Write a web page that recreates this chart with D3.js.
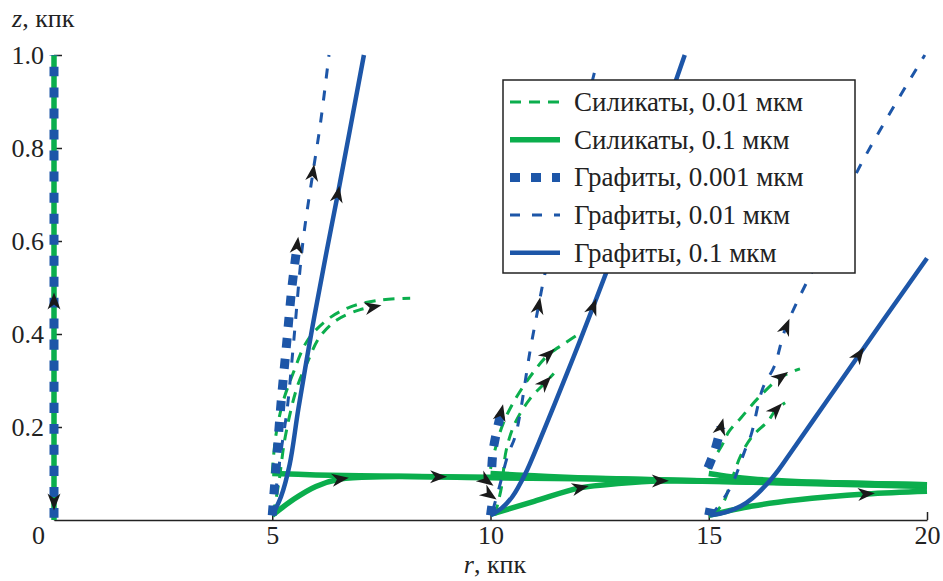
<!DOCTYPE html>
<html>
<head>
<meta charset="utf-8">
<script src="https://cdn.jsdelivr.net/npm/d3@7"></script>
<style>
  body { margin: 0; background: #fff; }
  svg { display: block; }
</style>
</head>
<body>
<svg id="chart" width="943" height="581"></svg>
<script>
// ---- data: r (kpc), z (kpc); arrows = indices of arrowheads ----
const xTicks = [0, 5, 10, 15, 20];
const yTicks = [0.2, 0.4, 0.6, 0.8, 1.0];

const silicates001Tracks = [
  { pts: [[5.0,0.1],[5.08,0.18],[5.25,0.255],[5.48,0.316],[5.8,0.385],[6.25,0.43],[6.78,0.458],[7.47,0.473],[8.16,0.477]], arrows: [] },
  { pts: [[5.02,0.01],[5.15,0.08],[5.3,0.18],[5.57,0.286],[5.8,0.338],[6.09,0.394],[6.48,0.43],[7.0,0.452],[7.3,0.458]], arrows: [8] },
  { pts: [[10.0,0.11],[10.1,0.15],[10.3,0.21],[10.6,0.265],[11.0,0.32],[11.32,0.355],[11.7,0.38],[12.1,0.405]], arrows: [5] },
  { pts: [[10.1,0.01],[10.25,0.07],[10.36,0.15],[10.56,0.208],[10.9,0.26],[11.25,0.295],[11.45,0.315]], arrows: [5] },
  { pts: [[15.0,0.11],[15.07,0.125],[15.3,0.16],[15.46,0.19],[15.74,0.22],[16.13,0.262],[16.65,0.307],[17.09,0.325]], arrows: [6] },
  { pts: [[15.1,0.01],[15.33,0.037],[15.51,0.082],[15.74,0.14],[16.0,0.18],[16.36,0.213],[16.54,0.237],[16.75,0.252]], arrows: [6] }
];

const silicates01Tracks = [
  { pts: [[0.0,1.0],[0.0,0.5],[0.0,0.04],[0.0,0.0]], arrows: [2] },
  { pts: [[5.0,0.1],[6.0,0.097],[7.0,0.095],[8.8,0.093],[10,0.092],[13,0.088],[16,0.082],[20,0.073]], arrows: [3] },
  { pts: [[5.0,0.01],[5.5,0.045],[6.0,0.072],[6.55,0.088],[7.5,0.093],[10,0.091],[13,0.087],[16,0.081],[20,0.072]], arrows: [3] },
  { pts: [[10.0,0.1],[11,0.095],[12,0.091],[14,0.086],[17,0.08],[20,0.075]], arrows: [] },
  { pts: [[10.0,0.012],[11,0.04],[12.05,0.069],[13,0.079],[13.88,0.084],[16,0.083],[20,0.076]], arrows: [2, 4] },
  { pts: [[15.0,0.1],[15.5,0.093],[16,0.088],[17,0.083],[20,0.076]], arrows: [] },
  { pts: [[15.0,0.01],[16,0.03],[17,0.043],[18.6,0.056],[20,0.062]], arrows: [3] }
];

const graphite0001Tracks = [
  { pts: [[0.0,0.005],[0.0,0.47],[0.0,1.0]], arrows: [1] },
  { pts: [[5.0,0.01],[5.1,0.13],[5.2,0.25],[5.33,0.38],[5.45,0.5],[5.57,0.59]], arrows: [5] },
  { pts: [[10.03,0.114],[10.06,0.15],[10.15,0.194],[10.24,0.23]], arrows: [3] },
  { pts: [[10.0,0.01],[10.03,0.03]], arrows: [] },
  { pts: [[14.98,0.112],[15.14,0.15],[15.28,0.2]], arrows: [2] },
  { pts: [[15.0,0.01],[15.03,0.025]], arrows: [] }
];

const graphite001Tracks = [
  { pts: [[5.02,0.01],[5.12,0.09],[5.22,0.16],[5.34,0.237],[5.48,0.372],[5.7,0.596],[5.93,0.746],[6.1,0.85],[6.3,1.0]], arrows: [6] },
  { pts: [[10.05,0.02],[10.2,0.07],[10.4,0.14],[10.56,0.178],[10.68,0.23],[10.9,0.36],[11.1,0.46],[11.25,0.531],[11.9,0.78],[12.44,0.985]], arrows: [6] },
  { pts: [[15.05,0.01],[15.3,0.04],[15.55,0.08],[15.85,0.155],[15.97,0.183],[16.24,0.284],[16.5,0.33],[16.77,0.415],[17.6,0.58],[18.42,0.753],[19.95,1.0]], arrows: [7] }
];

const graphite01Tracks = [
  { pts: [[5.0,0.01],[5.2,0.05],[5.4,0.12],[5.6,0.24],[5.93,0.42],[6.25,0.58],[6.5,0.7],[7.1,1.0]], arrows: [6] },
  { pts: [[10.0,0.01],[10.25,0.025],[10.5,0.05],[10.8,0.1],[11.1,0.165],[11.45,0.245],[11.9,0.35],[12.35,0.458],[13.4,0.72],[14.45,1.0]], arrows: [7] },
  { pts: [[15.03,0.01],[15.4,0.017],[15.74,0.03],[16.0,0.047],[16.3,0.074],[16.6,0.108],[16.9,0.148],[17.66,0.25],[18.44,0.355],[19.0,0.43],[20.0,0.563]], arrows: [8] }
];

// loose arrowheads near r = 10 (position r, z and heading in degrees, screen)
const extraArrows = [[9.9, 0.085, 35], [9.97, 0.055, 35]];

const legendLabels = ["Силикаты, 0.01 мкм", "Силикаты, 0.1 мкм", "Графиты, 0.001 мкм", "Графиты, 0.01 мкм", "Графиты, 0.1 мкм"];

// ---- styles ----
const serif = "Liberation Serif";
const green = "#0bae4d", blue = "#1d56a8";
const series = [
  { label: legendLabels[0], color: green, width: 3,   dash: "11,8",  tracks: silicates001Tracks },
  { label: legendLabels[1], color: green, width: 5.5, dash: null,    tracks: silicates01Tracks },
  { label: legendLabels[2], color: blue,  width: 9,   dash: "10,11", tracks: graphite0001Tracks },
  { label: legendLabels[3], color: blue,  width: 3,   dash: "10,12", tracks: graphite001Tracks },
  { label: legendLabels[4], color: blue,  width: 4.5, dash: null,    tracks: graphite01Tracks }
];
const drawOrder = [0, 1, 3, 4, 2];

const svg = d3.select("#chart");
const x = d3.scaleLinear().domain([0, 20]).range([54, 927]);
const y = d3.scaleLinear().domain([0, 1]).range([520, 55]);

// axes
const xAxis = svg.append("g")
    .attr("transform", "translate(0,520)")
    .call(d3.axisBottom(x).tickValues(xTicks).tickSizeInner(-8).tickSizeOuter(0)
        .tickPadding(6).tickFormat(d3.format("d")));
const yAxis = svg.append("g")
    .attr("transform", "translate(54,0)")
    .call(d3.axisLeft(y).tickValues(yTicks).tickSizeInner(-8).tickSizeOuter(0)
        .tickPadding(10).tickFormat(d3.format(".1f")));
[xAxis, yAxis].forEach(g => {
    g.attr("font-family", null).attr("font-size", null);
    g.selectAll("path, line").attr("stroke", "#222").attr("stroke-width", 1.5);
    g.selectAll("text").style("font-family", serif).style("font-size", "26px").attr("fill", "#222");
});
xAxis.selectAll(".tick").filter(d => d === 0).select("text").attr("dx", -16);

// trajectories
const line = d3.line().x(d => x(d[0])).y(d => y(d[1])).curve(d3.curveCatmullRom.alpha(0.5));
const curves = svg.append("g");
drawOrder.forEach(i => {
    const s = series[i];
    curves.selectAll(null)
        .data(s.tracks)
        .join("path")
        .attr("d", d => line(d.pts))
        .attr("fill", "none")
        .attr("stroke", s.color)
        .attr("stroke-width", s.width)
        .attr("stroke-dasharray", s.dash)
        .attr("stroke-linecap", "butt");
});

// arrowheads
const arrowShape = "M9,0L-8,-6.5L-3,0L-8,6.5Z";
const arrows = [];
series.forEach(s => s.tracks.forEach(t => t.arrows.forEach(k => {
    const p = t.pts[k];
    const a = t.pts[Math.max(k - 1, 0)];
    const b = t.pts[Math.min(k + 1, t.pts.length - 1)];
    const ang = Math.atan2(y(b[1]) - y(a[1]), x(b[0]) - x(a[0])) * 180 / Math.PI;
    arrows.push({ px: x(p[0]), py: y(p[1]), ang });
})));
extraArrows.forEach(d => arrows.push({ px: x(d[0]), py: y(d[1]), ang: d[2] }));

svg.append("g").selectAll("path")
    .data(arrows)
    .join("path")
    .attr("d", arrowShape)
    .attr("transform", d => `translate(${d.px},${d.py}) rotate(${d.ang})`)
    .attr("fill", "#1a1a1a");

// axis titles
const zt = svg.append("text").attr("x", 12).attr("y", 27)
    .style("font-family", serif).style("font-size", "26px").attr("fill", "#222");
zt.append("tspan").attr("font-style", "italic").text("z");
zt.append("tspan").text(", кпк");
const rt = svg.append("text").attr("x", 495).attr("y", 573)
    .style("font-family", serif).style("font-size", "26px").attr("fill", "#222").attr("text-anchor", "middle");
rt.append("tspan").attr("font-style", "italic").text("r");
rt.append("tspan").text(", кпк");

// legend
const legend = svg.append("g");
legend.append("rect")
    .attr("x", 503).attr("y", 80).attr("width", 352).attr("height", 193)
    .attr("fill", "#fff").attr("stroke", "#222").attr("stroke-width", 1.5);
const rows = legend.selectAll("g.row")
    .data(series)
    .join("g")
    .attr("class", "row")
    .attr("transform", (d, i) => `translate(0,${102 + i * 37.7})`);
rows.append("line")
    .attr("x1", 510).attr("x2", 560)
    .attr("stroke", d => d.color)
    .attr("stroke-width", d => d.width)
    .attr("stroke-dasharray", d => d.dash);
rows.append("text")
    .attr("x", 574).attr("y", 9)
    .style("font-family", serif).style("font-size", "27px").attr("fill", "#222")
    .text(d => d.label);
</script>
</body>
</html>
